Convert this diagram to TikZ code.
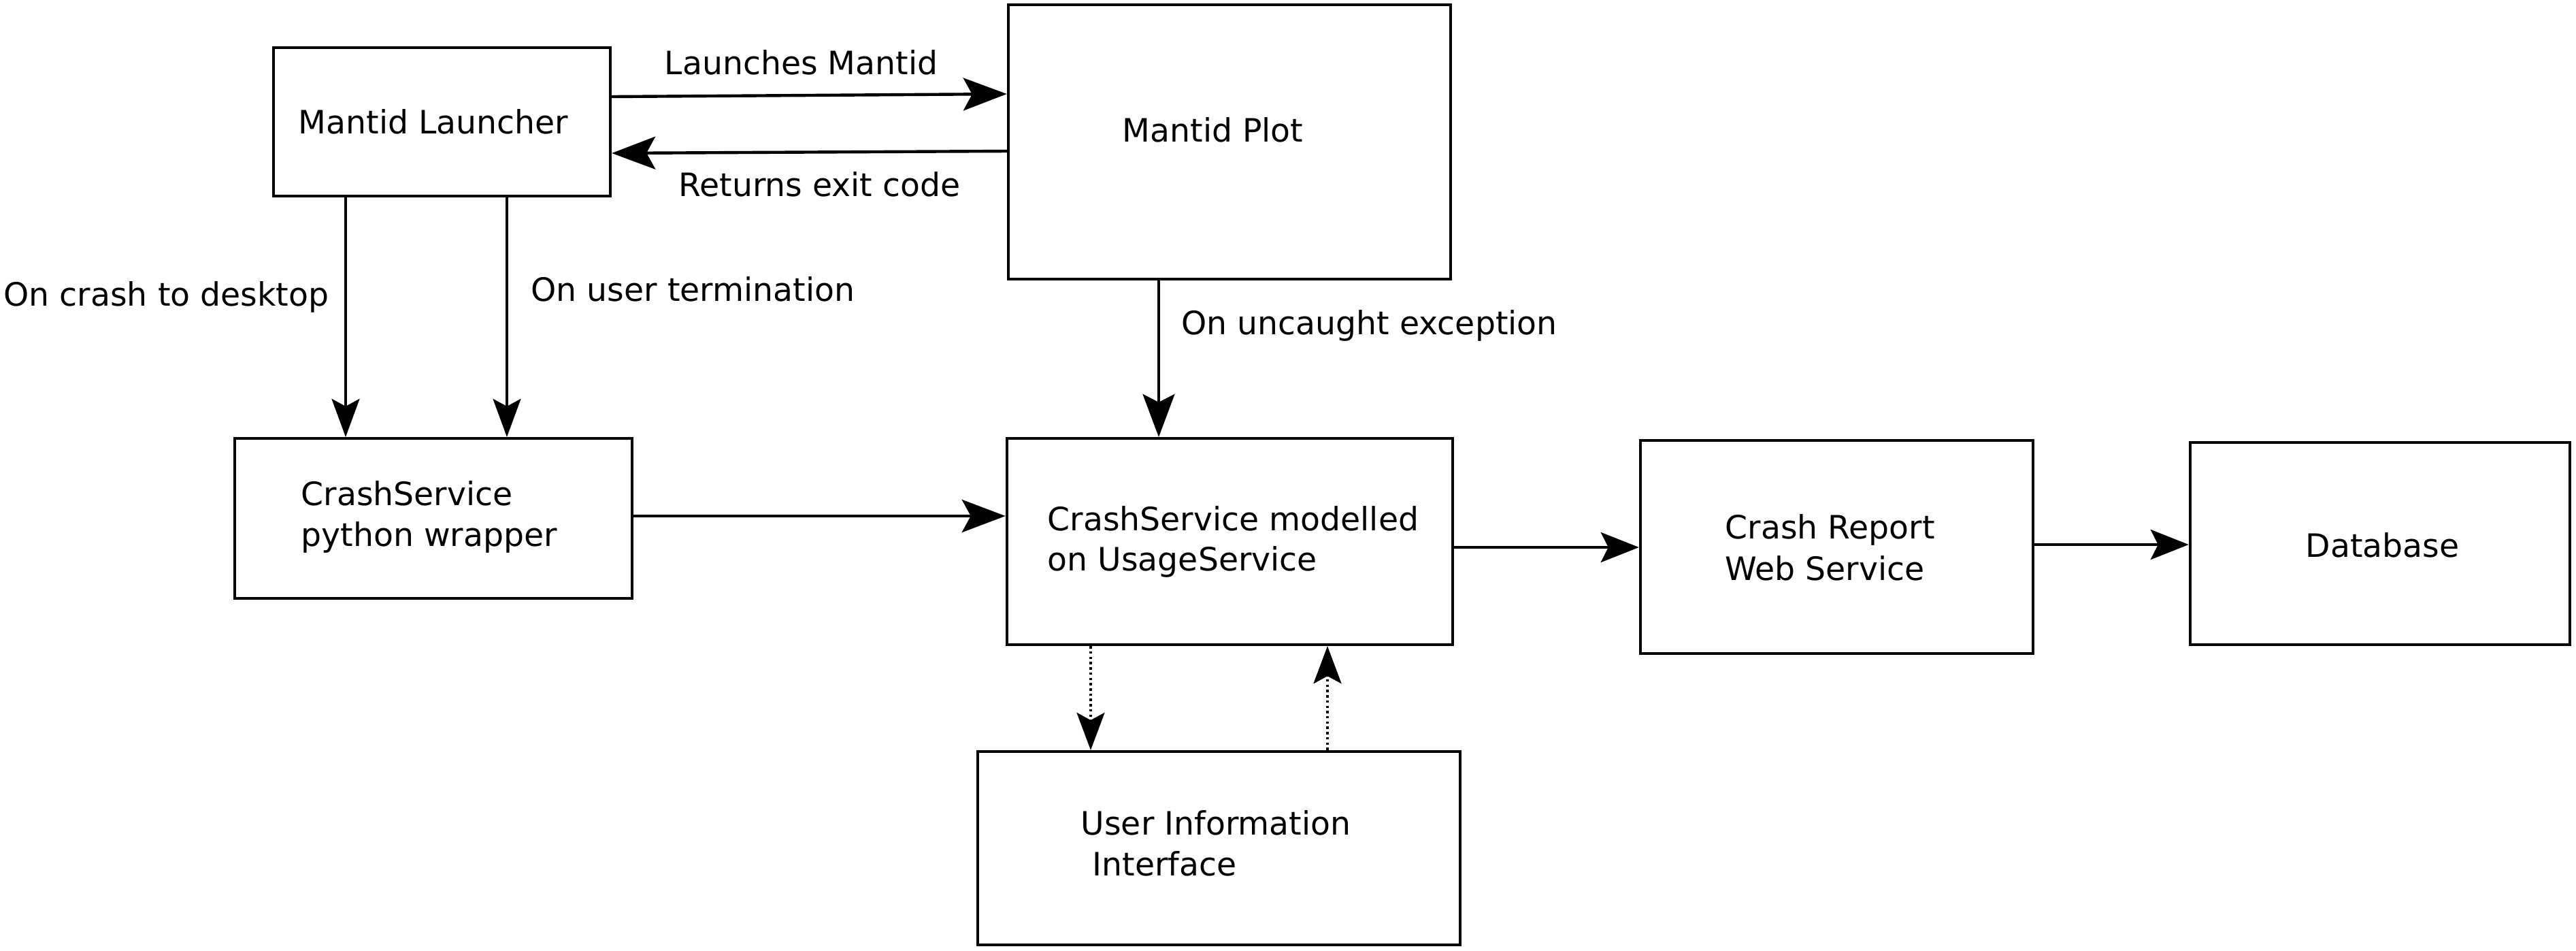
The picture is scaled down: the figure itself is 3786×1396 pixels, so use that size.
\documentclass[tikz,border=0pt]{standalone}
\usepackage{fontspec}
\setmainfont{DejaVu Sans}
\usetikzlibrary{arrows.meta}
\tikzset{
  box/.style={draw=black, line width=1.15pt, inner sep=0pt, fill=white},
  txt/.style={anchor=base west, inner sep=0pt, font=\fontsize{13.45pt}{16pt}\selectfont},
  bigarrow/.style={line width=1.25pt, -{Stealth[length=0.64cm, width=0.48cm, inset=0.13cm]}},
  medarrow/.style={line width=1.25pt, -{Stealth[length=0.56cm, width=0.44cm, inset=0.11cm]}},
  thinarrow/.style={line width=0.9pt, -{Stealth[length=0.56cm, width=0.41cm, inset=0.11cm]}},
  thinbig/.style={line width=0.9pt, -{Stealth[length=0.63cm, width=0.47cm, inset=0.12cm]}},
  dotarrow/.style={line width=1pt, dash pattern=on 1pt off 1.2pt, -{Stealth[length=0.55cm, width=0.41cm, inset=0.11cm, sep=0pt]}},
}
\begin{document}
\begin{tikzpicture}[x=0.01cm, y=-0.01cm]
\useasboundingbox (0,0) rectangle (3786,1396);
% boxes
\node[box, minimum width=4.95cm, minimum height=2.18cm] (launcher) at (649.5,179) {};
\node[box, minimum width=6.50cm, minimum height=4.03cm] (plot) at (1807,208.5) {};
\node[box, minimum width=5.84cm, minimum height=2.35cm] (wrapper) at (637,761.5) {};
\node[box, minimum width=6.55cm, minimum height=3.03cm] (modelled) at (1807.5,795.5) {};
\node[box, minimum width=5.77cm, minimum height=3.13cm] (web) at (2699.5,803.5) {};
\node[box, minimum width=5.58cm, minimum height=2.97cm] (db) at (3498,798.5) {};
\node[box, minimum width=7.09cm, minimum height=2.84cm] (ui) at (1791.5,1246) {};
% box texts
\node[txt] (tlauncher) at (438,196) {Mantid Launcher};
\node[txt] (tplot) at (1649,208) {Mantid Plot};
\node[txt] (twrap1) at (442,742) {CrashService};
\node[txt] (twrap2) at (442,802) {python wrapper};
\node[txt] (tmod1) at (1539,779) {CrashService modelled};
\node[txt] (tmod2) at (1539,838) {on UsageService};
\node[txt] (tweb1) at (2535,791) {Crash Report};
\node[txt] (tweb2) at (2535,852) {Web Service};
\node[txt] (tdb) at (3388,818) {Database};
\node[txt] (tui1) at (1588,1226) {User Information};
\node[txt] (tui2) at (1605,1286) {Interface};
% connector labels
\node[txt] (llaunch) at (976,109) {Launches Mantid};
\node[txt] (lreturn) at (997,288) {Returns exit code};
\node[txt] (lcrash) at (5,449) {On crash to desktop};
\node[txt] (luser) at (780,442) {On user termination};
\node[txt] (lexc) at (1736,491) {On uncaught exception};
% connectors
\draw[bigarrow] (launcher.east |- 0,142) -- (plot.west |- 0,138);
\draw[bigarrow] (plot.west |- 0,222) -- (launcher.east |- 0,225);
\draw[thinarrow] (508,0 |- launcher.south) -- (508,0 |- wrapper.north);
\draw[thinarrow] (745,0 |- launcher.south) -- (745,0 |- wrapper.north);
\draw[thinbig] (1703,0 |- plot.south) -- (1703,0 |- modelled.north);
\draw[bigarrow] (wrapper.east |- 0,758) -- (modelled.west |- 0,758);
\draw[medarrow] (modelled.east |- 0,804) -- (web.west |- 0,804);
\draw[medarrow] (web.east |- 0,800) -- (db.west |- 0,800);
\draw[dotarrow] (1603,0 |- modelled.south) -- (1603,0 |- ui.north);
\draw[dotarrow] (1951,0 |- ui.north) -- (1951,0 |- modelled.south);
\end{tikzpicture}
\end{document}
